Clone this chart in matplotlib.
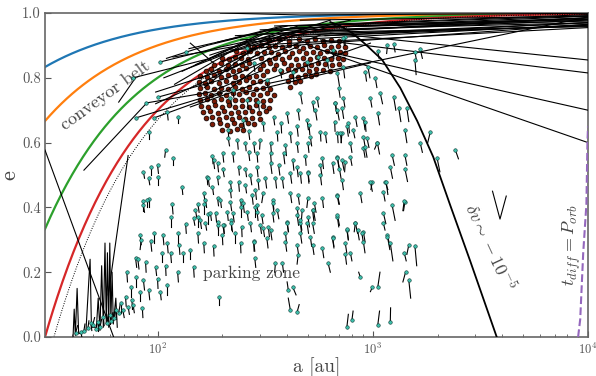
import numpy as np
import matplotlib
matplotlib.use('Agg')
from matplotlib import pyplot as plt

plt.rcParams['font.family'] = 'serif'
plt.rcParams['font.serif'] = ['cmr10', 'DejaVu Serif']
plt.rcParams['mathtext.fontset'] = 'cm'
plt.rcParams['axes.formatter.use_mathtext'] = True
plt.rcParams['axes.unicode_minus'] = False

# constant pericentre curves, q in au
q_values = [5, 10, 20, 30]
q_colors = ['#1f77b4', '#ff7f0e', '#2ca02c', '#d62728']
q_dotted = 33

# delta v ~ -1e-5 curve
dv_a = [635, 707, 804, 923, 1107, 1342, 1608, 1909, 2289, 2834, 3766]
dv_e = [0.972, 0.96, 0.938, 0.904, 0.855, 0.769, 0.667, 0.556, 0.407, 0.235, 0.0]

# t_diff = P_orb curve
tdiff_a = [8995, 9200, 9500, 9830, 9940, 10000]
tdiff_e = [0.0, 0.055, 0.26, 0.41, 0.6, 0.65]

# particle trajectories (a, e)
tracks = [
    [(30, 0.577), (62.5, 0.0)],
    [(40.5, 0.0), (41, 0.086), (41.5, 0.005), (42.3, 0.15), (43, 0.01),
     (46.5, 0.02), (48, 0.18), (48.6, 0.24), (49.3, 0.03), (52, 0.03),
     (53, 0.12), (54, 0.02), (55, 0.22), (56, 0.03), (57, 0.29),
     (57.8, 0.04), (58.5, 0.26), (59.3, 0.03), (60, 0.29), (60.7, 0.05),
     (61.5, 0.2), (62.3, 0.04), (64, 0.12), (65, 0.03)],
    [(59, 0.13), (73, 0.56)],
    [(45.5, 0.515), (89, 0.722)],
    [(79, 0.676), (213, 0.762), (330, 0.86)],
    [(96, 0.676), (200, 0.753)],
    [(88, 0.722), (176, 0.756), (300, 0.82)],
    [(103, 0.849), (196, 0.895), (461, 0.948)],
    [(107, 0.80), (213, 0.877), (635, 0.978)],
    [(98, 0.756), (225, 0.833), (571, 0.932)],
    [(100, 0.74), (213, 0.80), (461, 0.90)],
    [(118, 0.864), (243, 0.90), (787, 0.978)],
    [(66, 0.725), (79, 0.80)],
    [(142, 0.907), (182, 0.846)],
    [(110, 0.86), (170, 0.90), (400, 0.96)],
    [(98, 0.72), (167, 0.79), (290, 0.87)],
    [(77, 0.80), (176, 0.86), (350, 0.93)],
    [(142, 0.71), (975, 0.907)],
    [(250, 0.753), (975, 0.846)],
    [(130, 0.82), (300, 0.935), (10000, 0.985)],
    [(150, 0.84), (350, 0.95), (10000, 0.99)],
    [(160, 0.80), (400, 0.94), (10000, 0.978)],
    [(175, 0.87), (450, 0.96), (10000, 0.992)],
    [(140, 0.89), (320, 0.945), (10000, 0.97)],
    [(200, 0.85), (500, 0.955), (10000, 0.98)],
    [(120, 0.78), (260, 0.91), (10000, 0.965)],
    [(190, 0.91), (380, 0.96), (10000, 0.995)],
    [(230, 0.93), (10000, 0.985)],
    [(165, 0.77), (290, 0.9), (700, 0.965)],
    [(210, 0.82), (420, 0.93), (10000, 0.97)],
    [(196, 1.0), (461, 0.994), (10000, 0.999)],
    [(635, 0.938), (10000, 0.855)],
    [(571, 0.917), (10000, 0.815)],
    [(571, 0.886), (10000, 0.70)],
    [(500, 0.90), (10000, 0.60)],
    [(335, 0.784), (10000, 0.988)],
    [(243, 0.917), (10000, 0.97)],
    [(300, 0.948), (10000, 0.985)],
    [(372, 0.932), (10000, 0.96)],
    [(414, 0.954), (10000, 0.975)],
    [(513, 0.94), (10000, 0.958)],
    [(218, 0.886), (10000, 0.965)],
    [(461, 0.978), (10000, 0.99)],
    [(270, 0.90), (10000, 0.955)],
    [(350, 0.96), (10000, 0.98)],
    [(600, 0.93), (10000, 0.962)],
    [(3600, 0.45), (3900, 0.364), (4170, 0.435)],
]

# parked particles: a, e, tail end a, tail end e
parked = [
    (41.6, 0.012, 42.5, 0.035), (44, 0.015, 44.5, 0.0), (45.5, 0.02, 46, 0.04),
    (47.5, 0.028, 48, 0.05), (49, 0.043, 49.5, 0.02), (50, 0.037, 51, 0.06),
    (52, 0.025, 52.5, 0.045), (53, 0.046, 53, 0.02), (54, 0.03, 55, 0.055),
    (56, 0.062, 56.5, 0.035), (58, 0.043, 59, 0.07), (60, 0.068, 60, 0.04),
    (61, 0.05, 62, 0.075), (63, 0.059, 64, 0.085), (64, 0.083, 64.5, 0.055),
    (66, 0.074, 67, 0.1), (68, 0.105, 68, 0.075), (69, 0.083, 70, 0.06),
    (71, 0.125, 71.5, 0.095), (72, 0.2, 72.5, 0.17), (73, 0.093, 74, 0.07),
    (75, 0.155, 75, 0.125), (76, 0.115, 76.5, 0.085), (77, 0.099, 78, 0.075),
    (79, 0.185, 79, 0.155), (79, 0.245, 80, 0.215), (81, 0.24, 82, 0.21),
    (83, 0.14, 83, 0.11), (83, 0.315, 84, 0.285), (84, 0.3, 83, 0.27),
    (85, 0.09, 85.5, 0.06), (86, 0.175, 87, 0.145), (86, 0.42, 86, 0.39),
    (88, 0.23, 88.5, 0.2), (91, 0.145, 92, 0.115), (91, 0.425, 91, 0.4),
    (93, 0.295, 94, 0.265), (96, 0.32, 96, 0.29), (98, 0.216, 99, 0.19),
    (100, 0.18, 100.5, 0.15), (103, 0.14, 104, 0.115), (105, 0.26, 105, 0.23),
    (106, 0.315, 107, 0.285), (109, 0.22, 109.5, 0.19), (111, 0.29, 112, 0.26),
    (111, 0.16, 111, 0.13), (115, 0.26, 116, 0.23), (116, 0.37, 116, 0.34),
    (117, 0.41, 118, 0.38), (124, 0.32, 124, 0.29), (124, 0.2, 125, 0.17),
    (126, 0.285, 127, 0.255), (132, 0.26, 132, 0.23), (135, 0.35, 136, 0.32),
    (142, 0.27, 142, 0.24), (147, 0.216, 148, 0.185), (154, 0.37, 154, 0.34),
    (154, 0.32, 155, 0.29), (164, 0.41, 164, 0.38), (164, 0.29, 165, 0.26),
    (172, 0.38, 172, 0.35), (182, 0.28, 183, 0.25), (190, 0.345, 190, 0.315),
    (192, 0.125, 192, 0.1), (200, 0.315, 201, 0.285), (203, 0.345, 204, 0.32),
    (220, 0.36, 221, 0.33), (230, 0.32, 230, 0.29), (243, 0.29, 244, 0.26),
    (245, 0.4, 245, 0.37), (246, 0.34, 247, 0.31), (280, 0.295, 281, 0.265),
    (285, 0.4, 285, 0.37),
    (103, 0.849, 103, 0.849), (77, 0.80, 77, 0.80), (88, 0.722, 88, 0.722),
    (100, 0.74, 100, 0.74), (79, 0.676, 79, 0.676), (96, 0.676, 96, 0.676),
    (111, 0.694, 112, 0.67), (124, 0.68, 124, 0.66), (91, 0.633, 91, 0.61),
    (109, 0.577, 108, 0.555), (118, 0.552, 118, 0.53), (100, 0.53, 101, 0.505),
    (93, 0.525, 93, 0.5), (86, 0.51, 87, 0.49), (91, 0.49, 92, 0.47),
    (100, 0.494, 100, 0.47), (130, 0.463, 131, 0.44), (89, 0.423, 89, 0.4),
    (86, 0.407, 87, 0.385), (180, 0.56, 181, 0.535), (182, 0.546, 184, 0.52),
    (170, 0.494, 171, 0.47), (135, 0.88, 135, 0.88),
    (310, 0.66, 312, 0.635), (375, 0.66, 377, 0.63), (505, 0.655, 510, 0.625),
    (665, 0.665, 668, 0.635), (758, 0.65, 770, 0.62), (923, 0.665, 930, 0.635),
    (213, 0.64, 214, 0.615), (265, 0.635, 268, 0.61), (360, 0.633, 362, 0.605),
    (414, 0.63, 418, 0.6), (445, 0.65, 450, 0.62), (571, 0.633, 574, 0.605),
    (602, 0.63, 610, 0.6), (685, 0.63, 690, 0.6), (720, 0.63, 712, 0.6),
    (810, 0.64, 825, 0.615), (905, 0.617, 920, 0.59), (1050, 0.6, 1075, 0.565),
    (213, 0.614, 216, 0.59), (235, 0.608, 237, 0.58), (256, 0.6, 258, 0.575),
    (280, 0.6, 283, 0.57), (300, 0.608, 298, 0.58), (335, 0.6, 338, 0.57),
    (393, 0.593, 397, 0.56), (445, 0.6, 450, 0.57), (500, 0.598, 505, 0.57),
    (787, 0.6, 800, 0.57), (905, 0.583, 920, 0.555), (201, 0.567, 203, 0.54),
    (224, 0.567, 226, 0.54), (265, 0.571, 268, 0.545), (290, 0.567, 292, 0.54),
    (335, 0.567, 338, 0.535), (385, 0.567, 390, 0.535), (425, 0.546, 430, 0.515),
    (486, 0.56, 490, 0.53), (583, 0.552, 590, 0.52), (685, 0.556, 695, 0.525),
    (745, 0.54, 740, 0.51), (787, 0.556, 800, 0.53), (190, 0.537, 192, 0.51),
    (201, 0.52, 204, 0.495), (238, 0.525, 240, 0.5), (256, 0.52, 259, 0.495),
    (290, 0.525, 293, 0.495), (335, 0.537, 340, 0.505), (365, 0.53, 370, 0.5),
    (445, 0.525, 450, 0.495), (500, 0.51, 506, 0.48), (571, 0.53, 580, 0.5),
    (650, 0.537, 660, 0.505), (995, 0.478, 980, 0.455), (1143, 0.478, 1175, 0.455),
    (172, 0.49, 174, 0.465), (190, 0.494, 192, 0.47), (218, 0.478, 221, 0.45),
    (238, 0.478, 240, 0.45), (270, 0.5, 274, 0.47), (293, 0.485, 296, 0.455),
    (317, 0.49, 321, 0.46), (353, 0.49, 357, 0.46), (380, 0.49, 385, 0.46),
    (414, 0.506, 420, 0.475), (461, 0.506, 466, 0.475), (500, 0.506, 505, 0.475),
    (720, 0.485, 730, 0.455), (164, 0.444, 166, 0.42), (180, 0.463, 182, 0.44),
    (190, 0.43, 192, 0.405), (218, 0.454, 220, 0.43), (256, 0.47, 259, 0.445),
    (285, 0.454, 288, 0.425), (310, 0.444, 305, 0.415), (343, 0.423, 347, 0.395),
    (414, 0.444, 420, 0.415), (450, 0.438, 456, 0.41), (500, 0.43, 494, 0.4),
    (583, 0.43, 590, 0.4), (685, 0.438, 700, 0.41), (875, 0.444, 890, 0.415),
    (1120, 0.448, 1140, 0.42), (154, 0.41, 156, 0.385), (167, 0.423, 169, 0.4),
    (196, 0.423, 198, 0.4), (218, 0.417, 221, 0.39), (243, 0.423, 246, 0.395),
    (250, 0.413, 253, 0.385), (275, 0.438, 278, 0.41), (360, 0.392, 366, 0.365),
    (445, 0.398, 452, 0.37), (470, 0.392, 466, 0.36), (500, 0.37, 508, 0.34),
    (525, 0.392, 532, 0.36), (150, 0.392, 152, 0.37), (176, 0.383, 178, 0.36),
    (186, 0.383, 188, 0.355), (211, 0.386, 213, 0.36), (224, 0.383, 227, 0.355),
    (261, 0.386, 264, 0.36), (290, 0.386, 293, 0.36), (305, 0.377, 309, 0.35),
    (343, 0.383, 347, 0.355), (400, 0.355, 405, 0.325), (461, 0.352, 467, 0.32),
    (495, 0.352, 503, 0.32), (685, 0.37, 695, 0.34), (830, 0.352, 850, 0.32),
    (1120, 0.383, 1150, 0.35), (147, 0.367, 149, 0.345), (158, 0.36, 160, 0.335),
    (167, 0.352, 169, 0.33), (190, 0.355, 192, 0.33), (201, 0.346, 204, 0.32),
    (220, 0.352, 223, 0.325), (270, 0.352, 273, 0.325), (300, 0.346, 304, 0.32),
    (327, 0.34, 331, 0.31),
    (535, 0.413, 545, 0.385), (290, 0.407, 293, 0.38), (343, 0.413, 347, 0.385),
    (445, 0.377, 452, 0.345), (461, 0.361, 468, 0.33), (525, 0.352, 535, 0.32),
    (530, 0.392, 540, 0.36), (685, 0.377, 700, 0.345), (1230, 0.407, 1270, 0.36),
    (1410, 0.417, 1390, 0.39), (1120, 0.352, 1140, 0.33), (310, 0.336, 314, 0.31),
    (335, 0.33, 340, 0.3), (400, 0.352, 406, 0.325), (393, 0.32, 398, 0.29),
    (461, 0.32, 468, 0.29), (513, 0.309, 520, 0.28), (650, 0.309, 660, 0.28),
    (758, 0.33, 770, 0.3), (830, 0.352, 820, 0.325), (850, 0.33, 865, 0.3),
    (905, 0.324, 920, 0.295), (1170, 0.315, 1200, 0.28), (280, 0.293, 283, 0.265),
    (322, 0.305, 326, 0.275), (393, 0.293, 398, 0.265), (445, 0.284, 452, 0.255),
    (525, 0.284, 533, 0.255), (583, 0.275, 592, 0.245), (745, 0.29, 757, 0.26),
    (787, 0.26, 800, 0.235), (905, 0.293, 920, 0.26), (1206, 0.29, 1240, 0.235),
    (1470, 0.284, 1440, 0.255), (1400, 0.26, 1430, 0.235), (283, 0.244, 286, 0.215),
    (353, 0.228, 350, 0.2), (380, 0.228, 385, 0.2), (450, 0.253, 445, 0.225),
    (620, 0.228, 635, 0.2), (875, 0.185, 860, 0.2), (995, 0.154, 975, 0.14),
    (1055, 0.154, 1080, 0.2), (1470, 0.176, 1500, 0.12), (405, 0.145, 400, 0.17),
    (425, 0.154, 440, 0.13), (414, 0.083, 405, 0.12), (445, 0.077, 455, 0.1),
    (758, 0.031, 770, 0.07), (800, 0.052, 810, 0.08), (1055, 0.037, 1075, 0.08),
    (1206, 0.046, 1210, 0.09),
    (685, 0.435, 695, 0.41), (1400, 0.42, 1380, 0.39), (760, 0.333, 770, 0.3),
    (890, 0.32, 905, 0.29), (1170, 0.31, 1200, 0.27), (1570, 0.28, 1600, 0.22),
    (650, 0.305, 660, 0.275), (745, 0.256, 755, 0.225), (1420, 0.2, 1380, 0.17),
    (740, 0.926, 745, 0.9), (1170, 0.90, 1160, 0.875), (1250, 0.904, 1270, 0.88),
    (1570, 0.88, 1600, 0.85), (1660, 0.889, 1700, 0.86), (1570, 0.855, 1590, 0.81),
    (1055, 0.883, 1070, 0.86), (950, 0.833, 970, 0.8), (923, 0.818, 935, 0.79),
    (730, 0.833, 740, 0.8), (1027, 0.80, 1045, 0.77), (695, 0.768, 705, 0.74),
    (1083, 0.753, 1110, 0.72), (974, 0.738, 990, 0.71), (1250, 0.741, 1280, 0.7),
    (552, 0.738, 560, 0.71), (670, 0.722, 680, 0.69), (720, 0.707, 732, 0.675),
    (1320, 0.707, 1350, 0.665), (1440, 0.707, 1470, 0.665), (1055, 0.69, 1075, 0.655),
    (830, 0.68, 845, 0.65), (905, 0.676, 920, 0.64), (1410, 0.639, 1440, 0.6),
    (1850, 0.633, 1800, 0.6), (770, 0.66, 780, 0.63), (707, 0.63, 715, 0.6),
    (940, 0.614, 960, 0.585), (923, 0.586, 940, 0.555), (1050, 0.6, 1020, 0.58),
    (513, 0.617, 520, 0.59), (1660, 0.6, 1700, 0.57), (2420, 0.577, 2500, 0.55),
    (1990, 0.552, 2050, 0.51), (1230, 0.562, 1260, 0.53), (1410, 0.562, 1440, 0.53),
    (685, 0.552, 700, 0.52), (720, 0.546, 735, 0.515), (571, 0.50, 578, 0.47),
    (700, 0.52, 712, 0.49), (1206, 0.525, 1235, 0.49), (1410, 0.52, 1450, 0.48),
    (1155, 0.478, 1175, 0.44), (975, 0.478, 995, 0.45),
    (261, 0.892, 263, 0.87), (495, 0.85, 500, 0.825), (558, 0.864, 565, 0.84),
    (615, 0.855, 622, 0.83), (650, 0.886, 660, 0.86), (730, 0.923, 738, 0.9),
    (685, 0.815, 700, 0.775), (280, 0.846, 283, 0.82), (372, 0.824, 377, 0.8),
    (425, 0.818, 430, 0.79), (322, 0.793, 326, 0.77), (224, 0.762, 226, 0.74),
    (218, 0.738, 221, 0.715), (261, 0.731, 264, 0.705), (293, 0.725, 297, 0.7),
    (461, 0.753, 470, 0.72), (525, 0.725, 535, 0.695), (670, 0.722, 680, 0.69),
    (730, 0.738, 742, 0.71), (346, 0.68, 350, 0.655), (400, 0.69, 406, 0.66),
    (450, 0.70, 456, 0.67), (495, 0.67, 502, 0.64), (541, 0.70, 550, 0.67),
    (685, 0.70, 698, 0.67), (250, 0.67, 253, 0.645),
]

# captured cloud (a, e)
cloud = [
    (330, 0.916), (368, 0.919), (410, 0.914), (455, 0.920), (497, 0.915),
    (540, 0.919), (590, 0.914), (640, 0.918), (700, 0.913),
    (262, 0.898), (282, 0.895), (304, 0.901), (328, 0.896), (353, 0.899), (380, 0.894),
    (410, 0.900), (442, 0.897), (476, 0.893), (513, 0.899), (553, 0.895), (596, 0.901),
    (642, 0.896), (692, 0.899), (745, 0.894),
    (232, 0.882), (250, 0.878), (270, 0.884),
    (290, 0.876), (312, 0.881), (336, 0.879), (362, 0.875), (390, 0.882), (420, 0.878),
    (452, 0.884), (487, 0.877), (525, 0.880), (566, 0.876), (610, 0.883), (657, 0.879),
    (708, 0.881), (745, 0.876),
    (200, 0.862), (214, 0.858), (228, 0.864), (243, 0.860),
    (262, 0.857), (304, 0.861), (328, 0.856), (353, 0.862), (380, 0.858),
    (410, 0.864), (442, 0.859), (476, 0.862), (513, 0.857), (553, 0.863), (596, 0.860),
    (642, 0.857), (692, 0.862), (730, 0.859),
    (183, 0.840), (197, 0.845), (212, 0.839), (228, 0.844),
    (246, 0.841), (265, 0.847), (308, 0.839), (332, 0.845), (357, 0.840),
    (385, 0.846), (415, 0.841), (447, 0.838), (482, 0.844), (519, 0.840), (559, 0.846),
    (602, 0.842), (648, 0.839), (698, 0.844),
    (168, 0.821), (178, 0.827), (192, 0.822), (207, 0.826), (223, 0.820),
    (240, 0.825), (258, 0.829), (300, 0.827), (323, 0.821), (348, 0.826),
    (375, 0.822), (404, 0.828), (435, 0.823), (468, 0.826), (504, 0.821), (543, 0.827),
    (585, 0.824), (630, 0.820),
    (158, 0.806), (170, 0.802), (183, 0.808), (197, 0.804), (212, 0.809), (228, 0.803),
    (246, 0.807), (265, 0.801), (286, 0.806), (308, 0.810),
    (415, 0.807), (447, 0.802), (482, 0.808), (519, 0.805), (545, 0.811),
    (155, 0.788), (166, 0.784), (178, 0.790), (192, 0.785), (207, 0.789), (223, 0.783),
    (240, 0.787), (258, 0.792), (278, 0.786), (300, 0.789), (323, 0.784),
    (404, 0.789), (435, 0.786), (461, 0.791),
    (158, 0.768), (170, 0.772), (183, 0.766), (197, 0.770), (212, 0.765), (228, 0.771),
    (246, 0.767), (265, 0.772), (286, 0.766), (308, 0.770), (332, 0.765),
    (414, 0.773),
    (155, 0.750), (166, 0.754), (178, 0.748), (192, 0.753), (207, 0.747), (223, 0.752),
    (240, 0.749), (258, 0.755), (278, 0.750), (300, 0.746), (323, 0.752), (348, 0.748),
    (158, 0.731), (170, 0.735), (183, 0.729), (197, 0.734), (212, 0.728), (228, 0.733),
    (246, 0.730), (265, 0.736), (286, 0.731), (308, 0.727), (332, 0.733),
    (160, 0.713), (172, 0.709), (185, 0.715), (199, 0.710), (214, 0.716), (230, 0.711),
    (248, 0.714), (267, 0.709), (288, 0.715), (310, 0.712), (330, 0.708),
    (163, 0.694), (176, 0.698), (190, 0.692), (204, 0.697), (220, 0.691), (237, 0.696),
    (255, 0.693), (275, 0.698), (296, 0.692), (318, 0.697),
    (168, 0.676), (180, 0.679), (193, 0.672), (207, 0.678), (222, 0.673), (238, 0.679),
    (256, 0.674), (276, 0.677), (298, 0.672),
    (180, 0.657), (195, 0.661), (210, 0.655), (226, 0.660), (243, 0.654), (262, 0.659),
    (282, 0.656),
    (200, 0.640), (216, 0.636), (233, 0.642), (250, 0.638),
]

fig, ax = plt.subplots(figsize=(5.96, 3.76), dpi=100)
fig.subplots_adjust(left=0.0755, right=0.9866, top=0.9654, bottom=0.1037)

a_grid = np.logspace(np.log10(30), 4, 400)
for q, col in zip(q_values, q_colors):
    e_q = 1 - q / a_grid
    ax.plot(a_grid, e_q, color=col, lw=1.6, zorder=2)
ax.plot(a_grid, 1 - q_dotted / a_grid, color='k', lw=0.7, ls=(0, (1, 1.5)), zorder=2)

cloud_a, cloud_e = zip(*cloud)
ax.scatter(cloud_a, cloud_e, s=12, c='#7a1a05', edgecolors='k', linewidths=0.5, zorder=3)

for tr in tracks:
    ta, te = zip(*tr)
    ax.plot(ta, te, color='k', lw=0.8, zorder=4)

ax.plot(dv_a, dv_e, color='k', lw=1.3, zorder=4)
ax.plot(tdiff_a, tdiff_e, color='#9467bd', lw=1.5, ls='--', zorder=4)

pa, pe, pta, pte = zip(*parked)
for x0, y0, x1, y1 in parked:
    ax.plot([x0, x1], [y0, y1], color='k', lw=0.8, zorder=5)
ax.scatter(pa, pe, s=6.5, c='#3cbfab', edgecolors='#0f3b35', linewidths=0.4, zorder=6)

txt_col = '#444444'
ax.text(57.4, 0.747, 'conveyor belt', rotation=36, fontsize=13, color=txt_col,
        ha='center', va='center', rotation_mode='anchor')
ax.text(273, 0.198, 'parking zone', fontsize=12.5, color=txt_col,
        ha='center', va='center')
ax.text(3510, 0.28, r'$\delta v\sim -10^{-5}$', rotation=-65, fontsize=13,
        color=txt_col, ha='center', va='center', rotation_mode='anchor')
ax.text(8430, 0.284, r'$t_{diff}=P_{orb}$', rotation=90, fontsize=13,
        color=txt_col, ha='center', va='center', rotation_mode='anchor')

ax.set_xscale('log')
ax.set_xlim(30, 1e4)
ax.set_ylim(0, 1)
ax.set_yticks([0.0, 0.2, 0.4, 0.6, 0.8, 1.0])
ax.set_yticklabels(['0.0', '0.2', '0.4', '0.6', '0.8', '1.0'])
ax.tick_params(axis='both', which='both', direction='in', colors='#555555')
ax.tick_params(axis='y', labelsize=10.5, length=4, pad=3)
ax.tick_params(axis='x', which='major', labelsize=9, length=4)
ax.tick_params(axis='x', which='minor', length=2)
for sp in ax.spines.values():
    sp.set_color('#666666')
    sp.set_linewidth(1.2)
ax.set_xlabel('a [au]', fontsize=14, color=txt_col, labelpad=0)
ax.set_ylabel('e', fontsize=16, color=txt_col, labelpad=2)

fig.savefig('out.png', dpi=100)
